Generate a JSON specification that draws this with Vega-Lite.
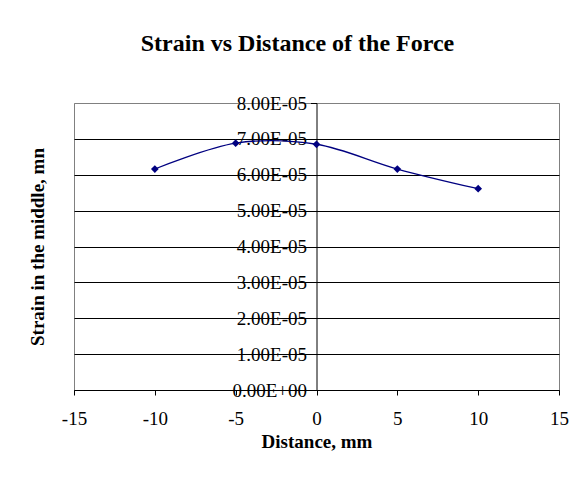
{
  "$schema": "https://vega.github.io/schema/vega-lite/v6.json",
  "width": 485,
  "height": 287,
  "autosize": {"type": "none"},
  "padding": {"left": 74, "top": 103, "right": 22, "bottom": 90},
  "background": "white",
  "title": {
    "text": "Strain vs Distance of the Force",
    "font": "Liberation Serif",
    "fontSize": 24,
    "fontWeight": "bold",
    "color": "black",
    "anchor": "middle",
    "dx": -19,
    "offset": 38
  },
  "config": {
    "view": {"stroke": "#808080", "strokeWidth": 1},
    "font": "Liberation Serif"
  },
  "data": {
    "values": [
      {"distance": -10, "strain": 6.16e-5},
      {"distance": -5, "strain": 6.88e-5},
      {"distance": 0, "strain": 6.85e-5},
      {"distance": 5, "strain": 6.16e-5},
      {"distance": 10, "strain": 5.61e-5}
    ]
  },
  "encoding": {
    "x": {
      "field": "distance",
      "type": "quantitative",
      "scale": {"domain": [-15, 15], "nice": false},
      "axis": {
        "title": "Distance, mm",
        "values": [-15, -10, -5, 0, 5, 10, 15],
        "labelExpr": "datum.value < 0 ? '-' + abs(datum.value) : '' + datum.value",
        "grid": false,
        "domainColor": "black",
        "tickColor": "black",
        "tickSize": 5,
        "labelFont": "Liberation Serif",
        "labelFontSize": 19,
        "labelColor": "black",
        "labelPadding": 14,
        "labelFlush": false,
        "titleFont": "Liberation Serif",
        "titleFontSize": 19,
        "titleFontWeight": "bold",
        "titleColor": "black",
        "titleBaseline": "alphabetic",
        "titleY": 57
      }
    },
    "y": {
      "field": "strain",
      "type": "quantitative",
      "scale": {"domain": [0, 8e-5], "nice": false},
      "axis": {
        "title": "Strain in the middle, mn",
        "values": [0, 1e-5, 2e-5, 3e-5, 4e-5, 5e-5, 6e-5, 7e-5, 8e-5],
        "labelExpr": "datum.value == 0 ? '0.00E+00' : format(datum.value * 100000, '.2f') + 'E-05'",
        "offset": -242.5,
        "grid": true,
        "gridColor": {"condition": {"test": "datum.value > 7.9e-5", "value": "#808080"}, "value": "black"},
        "gridOpacity": 1,
        "domainColor": "black",
        "tickColor": "black",
        "tickSize": 6,
        "labelPadding": 4,
        "labelFont": "Liberation Serif",
        "labelFontSize": 19,
        "labelColor": "black",
        "labelFlush": false,
        "labelOverlap": false,
        "titleFont": "Liberation Serif",
        "titleFontSize": 19,
        "titleFontWeight": "bold",
        "titleColor": "black",
        "titleBaseline": "alphabetic",
        "titleX": -273,
        "titleY": 143.5
      }
    }
  },
  "layer": [
    {
      "mark": {"type": "line", "interpolate": "cardinal", "tension": 0, "color": "#000080", "strokeWidth": 1.3}
    },
    {
      "mark": {"type": "point", "shape": "diamond", "filled": true, "size": 60, "color": "#000080", "opacity": 1}
    }
  ]
}
